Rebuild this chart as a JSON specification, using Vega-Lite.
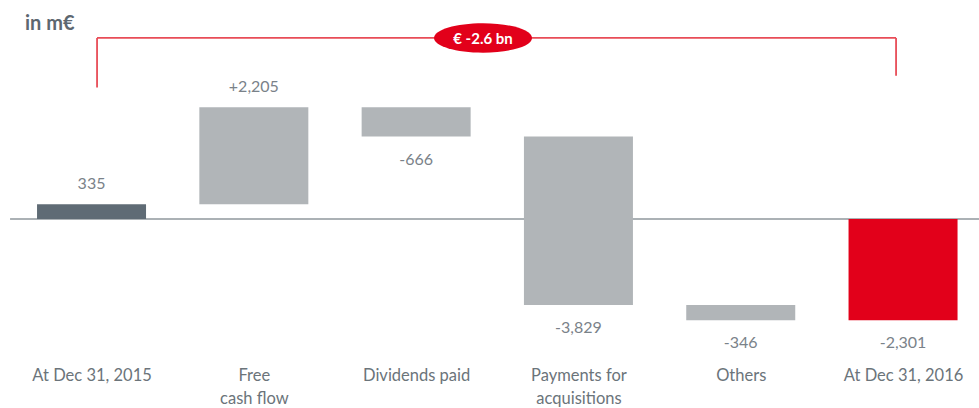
{
  "$schema": "https://vega.github.io/schema/vega-lite/v6.json",
  "autosize": "none",
  "width": 979,
  "height": 362,
  "padding": {"top": 0, "left": 0, "right": 0, "bottom": 46},
  "background": "white",
  "config": {"view": {"stroke": null}, "font": "Lato"},
  "datasets": {
    "bars": [
      {"cat": "At Dec 31, 2015", "i": 0, "start": 0, "end": 335, "label": "335", "kind": "start", "pos": "above"},
      {"cat": "Free cash flow", "i": 1, "start": 335, "end": 2540, "label": "+2,205", "kind": "delta", "pos": "above"},
      {"cat": "Dividends paid", "i": 2, "start": 2540, "end": 1874, "label": "-666", "kind": "delta", "pos": "below"},
      {"cat": "Payments for acquisitions", "i": 3, "start": 1874, "end": -1955, "label": "-3,829", "kind": "delta", "pos": "below"},
      {"cat": "Others", "i": 4, "start": -1955, "end": -2301, "label": "-346", "kind": "delta", "pos": "below"},
      {"cat": "At Dec 31, 2016", "i": 5, "start": 0, "end": -2301, "label": "-2,301", "kind": "end", "pos": "below"}
    ],
    "bracket": [
      {"x": 0.034, "x2": 4.957, "y": 4114, "y2": 4114},
      {"x": 0.034, "x2": 0.034, "y": 4114, "y2": 2986},
      {"x": 4.957, "x2": 4.957, "y": 4114, "y2": 3258}
    ],
    "badge": [{"x": 2.412, "y": 4114, "text": "€ -2.6 bn"}],
    "unit": [{"x": -0.41, "y": 4440, "text": "in m€"}],
    "baseline": [{"x": -0.502, "x2": 5.468, "y": 0}]
  },
  "layer": [
    {
      "data": {"name": "baseline"},
      "mark": {"type": "rule", "color": "#8f979c", "strokeWidth": 1.5},
      "encoding": {
        "x": {"field": "x", "type": "quantitative", "scale": {"domain": [-0.564, 5.468], "nice": false, "zero": false, "padding": 0},
          "axis": {"values": [0, 1, 2, 3, 4, 5], "orient": "bottom", "domain": false, "ticks": false, "grid": false, "title": null,
            "labelExpr": "[['At Dec 31, 2015'], ['Free', 'cash flow'], ['Dividends paid'], ['Payments for', 'acquisitions'], ['Others'], ['At Dec 31, 2016']][datum.value]",
            "labelFont": "Lato", "labelFontSize": 16.5, "labelColor": "#6b747a", "labelPadding": 5, "labelBaseline": "top", "labelLineHeight": 23, "labelFlush": false, "labelOverlap": false, "labelBound": false}},
        "x2": {"field": "x2"},
        "y": {"field": "y", "type": "quantitative", "scale": {"domain": [-3250, 4977], "nice": false, "zero": false, "padding": 0}, "axis": null}
      }
    },
    {
      "data": {"name": "bars"},
      "mark": {"type": "bar", "width": 109},
      "encoding": {
        "x": {"field": "i", "type": "quantitative"},
        "y": {"field": "start", "type": "quantitative"},
        "y2": {"field": "end"},
        "color": {"field": "kind", "type": "nominal", "scale": {"domain": ["start", "delta", "end"], "range": ["#5f6b75", "#b1b5b8", "#e2001a"]}, "legend": null}
      }
    },
    {
      "data": {"name": "bars"},
      "transform": [{"filter": "datum.pos == 'above'"}],
      "mark": {"type": "text", "baseline": "middle", "dy": -20, "fontSize": 16, "color": "#7a8289", "font": "Lato"},
      "encoding": {
        "x": {"field": "i", "type": "quantitative"},
        "y": {"field": "end", "type": "quantitative"},
        "text": {"field": "label"}
      }
    },
    {
      "data": {"name": "bars"},
      "transform": [{"filter": "datum.pos == 'below'"}],
      "mark": {"type": "text", "baseline": "middle", "dy": 23, "fontSize": 16, "color": "#7a8289", "font": "Lato"},
      "encoding": {
        "x": {"field": "i", "type": "quantitative"},
        "y": {"field": "end", "type": "quantitative"},
        "text": {"field": "label"}
      }
    },
    {
      "data": {"name": "bracket"},
      "mark": {"type": "rule", "color": "#e84c57", "strokeWidth": 1.8},
      "encoding": {
        "x": {"field": "x", "type": "quantitative"},
        "x2": {"field": "x2"},
        "y": {"field": "y", "type": "quantitative"},
        "y2": {"field": "y2"}
      }
    },
    {
      "data": {"name": "badge"},
      "mark": {"type": "point", "filled": true, "opacity": 1, "color": "#e2001a", "size": 9604, "shape": "M -1 0 A 1 0.3 0 1 0 1 0 A 1 0.3 0 1 0 -1 0 Z"},
      "encoding": {
        "x": {"field": "x", "type": "quantitative"},
        "y": {"field": "y", "type": "quantitative"}
      }
    },
    {
      "data": {"name": "badge"},
      "mark": {"type": "text", "color": "white", "fontWeight": "bold", "fontSize": 15, "font": "Lato", "baseline": "middle", "dy": 1},
      "encoding": {
        "x": {"field": "x", "type": "quantitative"},
        "y": {"field": "y", "type": "quantitative"},
        "text": {"field": "text"}
      }
    },
    {
      "data": {"name": "unit"},
      "mark": {"type": "text", "color": "#5d6770", "fontWeight": "bold", "fontSize": 20, "font": "Lato", "baseline": "middle", "align": "left"},
      "encoding": {
        "x": {"field": "x", "type": "quantitative"},
        "y": {"field": "y", "type": "quantitative"},
        "text": {"field": "text"}
      }
    }
  ]
}
